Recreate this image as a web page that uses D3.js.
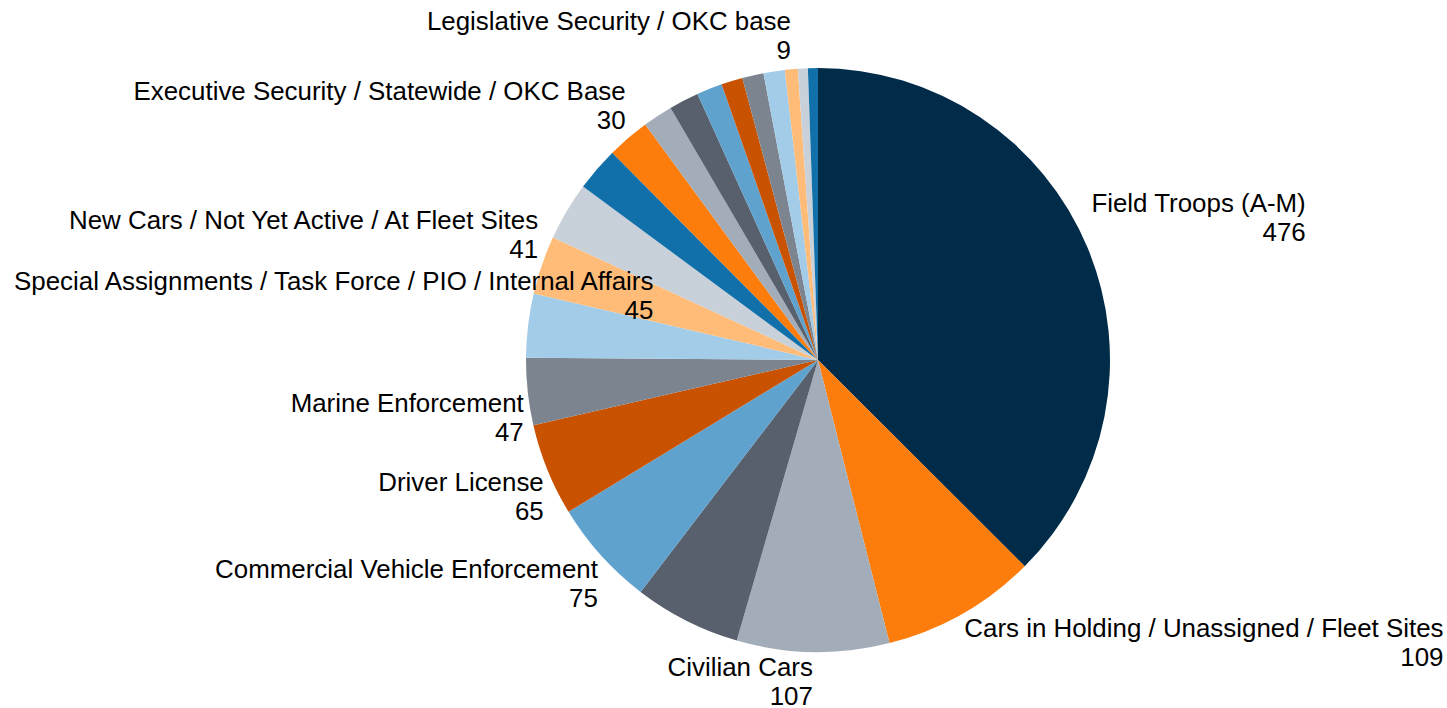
<!DOCTYPE html>
<html>
<head>
<meta charset="utf-8">
<script src="https://cdn.jsdelivr.net/npm/d3@7"></script>
<style>
  body { margin: 0; background: #fff; }
  text { font-family: "Liberation Sans", Arial, sans-serif; font-size: 25.9px; fill: #000; }
</style>
</head>
<body>
<div id="chart"></div>
<script>
// slices in drawing order (clockwise from 12 o'clock); null = label removed in the original
const categories = [
    "Field Troops (A-M)",
    "Cars in Holding / Unassigned / Fleet Sites",
    "Civilian Cars",
    null,
    "Commercial Vehicle Enforcement",
    "Driver License",
    "Marine Enforcement",
    "Special Assignments / Task Force / PIO / Internal Affairs",
    "New Cars / Not Yet Active / At Fleet Sites",
    null,
    null,
    "Executive Security / Statewide / OKC Base",
    null, null, null, null, null, null,
    "Legislative Security / OKC base",
    null, null
];
const values = [476, 109, 107, 75, 75, 65, 47, 45, 41, 41, 31, 30, 21, 21, 18, 15, 15, 15, 9, 7, 7];

const palette = ["#1170aa", "#fc7d0b", "#a3acb9", "#57606c", "#5fa2ce",
                 "#c85200", "#7b848f", "#a3cce9", "#ffbc79", "#c8d0d9"];
const firstColor = "#002b49";

const width = 1447, height = 708;
const cx = 818, cy = 360, radius = 292;

const data = values.map((v, i) => ({ name: categories[i], value: v, i: i }));

const svg = d3.select("#chart").append("svg")
    .attr("width", width)
    .attr("height", height);

const g = svg.append("g")
    .attr("transform", `translate(${cx}, ${cy})`);

const pie = d3.pie()
    .sort(null)
    .value(d => d.value);

const arc = d3.arc()
    .innerRadius(0)
    .outerRadius(radius);

const arcs = pie(data);

g.selectAll("path.slice")
    .data(arcs)
    .join("path")
    .attr("class", "slice")
    .attr("d", arc)
    .attr("fill", d => d.data.i === 0 ? firstColor : palette[d.data.i % palette.length]);

// Labels: box corner sits on the slice's mid-angle ray just outside the pie
const labelR = radius + 4;
const leftLimit = 14;

arcs.filter(d => d.data.name).forEach(d => {
    const mid = (d.startAngle + d.endAngle) / 2;
    const px = labelR * Math.sin(mid);
    const py = -labelR * Math.cos(mid);

    const lg = g.append("g").attr("class", "label");
    const t1 = lg.append("text").attr("text-anchor", "end").text(d.data.name);
    const t2 = lg.append("text").attr("text-anchor", "end").text(d.data.value);
    const w = Math.max(t1.node().getComputedTextLength(), t2.node().getComputedTextLength());

    let right;
    if (Math.sin(mid) > 0.02) {
        right = px + w;
    } else {
        right = px;
        if (cx + right - w < leftLimit) right = leftLimit - cx + w;
    }

    let y1, y2;
    if (Math.cos(mid) > 0) {
        y2 = py - 6;
        y1 = y2 - 29;
    } else {
        y1 = py + 20;
        y2 = y1 + 29;
    }

    t1.attr("x", right).attr("y", y1);
    t2.attr("x", right).attr("y", y2);
});
</script>
</body>
</html>
